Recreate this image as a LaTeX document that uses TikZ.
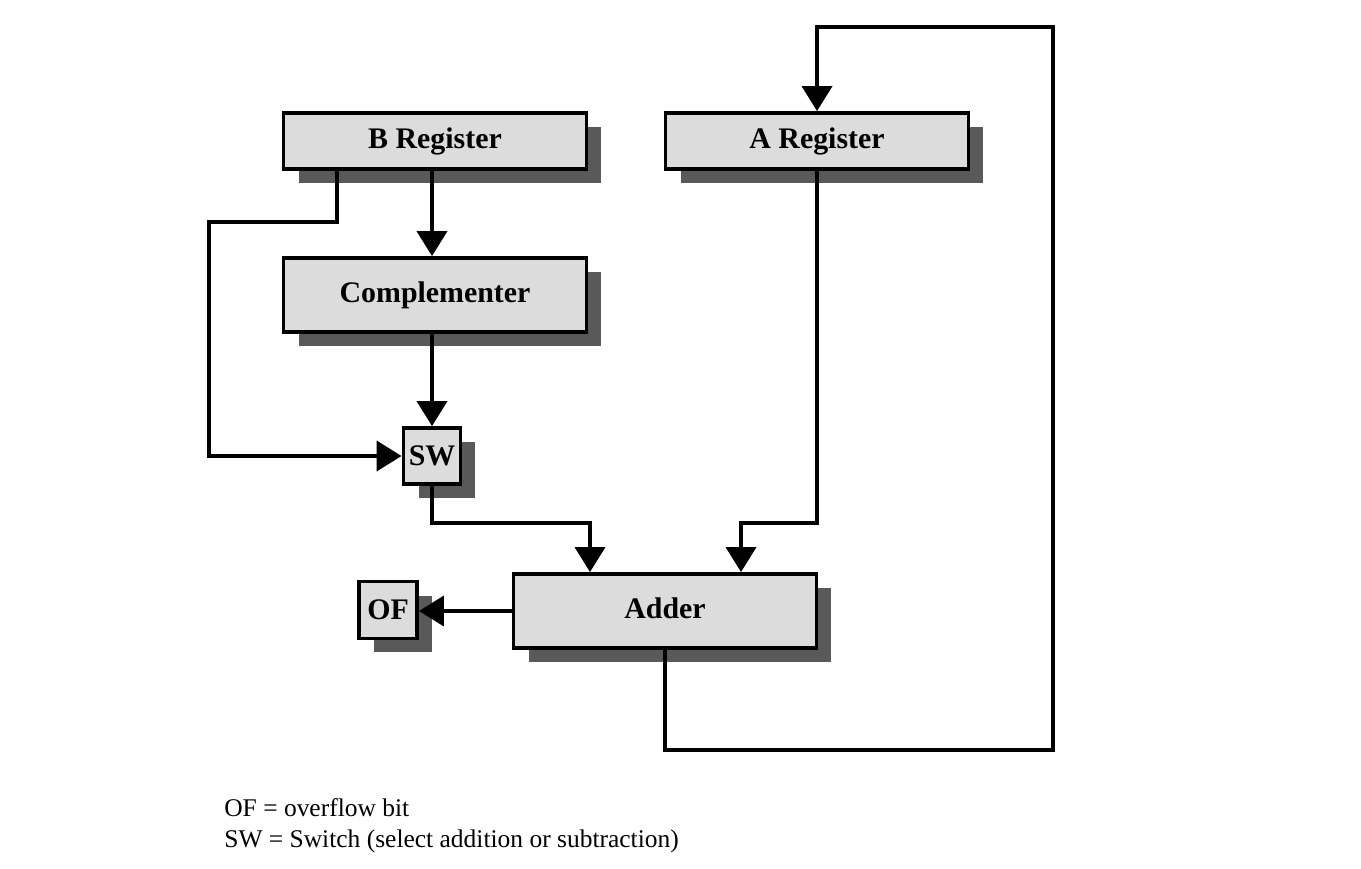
\documentclass[tikz,border=0pt]{standalone}
\usepackage{fontspec}
\setmainfont{Liberation Serif}
\usetikzlibrary{arrows.meta,shadows,calc}
\definecolor{boxgray}{HTML}{DCDCDC}
\definecolor{shgray}{HTML}{595959}
\tikzset{
  blk/.style={draw, line width=2.2pt, fill=boxgray, inner sep=0pt,
    font=\bfseries\fontsize{17}{20}\selectfont,
    drop shadow={shadow xshift=0.3cm, shadow yshift=-0.28cm, fill=shgray, opacity=1}},
  arr/.style={line width=2.2pt, -{Triangle[length=0.5cm,width=0.6cm]}},
  note/.style={font=\fontsize{14.5}{17}\selectfont, anchor=base west, inner sep=0pt}
}
\begin{document}
\begin{tikzpicture}[x=0.02cm, y=-0.02cm]
\useasboundingbox (0,0) rectangle (1361,868);
\node[blk, minimum width=6.06cm, minimum height=1.12cm] (breg) at (435,141) {B Register};
\node[blk, minimum width=6.06cm, minimum height=1.12cm] (areg) at (817,141) {A Register};
\node[blk, minimum width=6.06cm, minimum height=1.48cm] (comp) at (435,295) {Complementer};
\node[blk, minimum width=1.14cm, minimum height=1.12cm] (sw) at (432,456) {SW};
\node[blk, minimum width=6.06cm, minimum height=1.48cm] (adder) at (665,611) {\raisebox{0.13cm}{Adder}};
\node[blk, minimum width=1.16cm, minimum height=1.14cm] (of) at (388,610) {OF};

\coordinate (bo) at ($(breg.south west)+(55,0)$);
\coordinate (b2) at (209,222);
\coordinate (sa) at (590,523);
\coordinate (aa) at (741,523);
\coordinate (f2) at (1053,750);
\coordinate (f3) at (1053,27);

\draw[arr] (breg.south -| sw.north) -- (comp.north -| sw.north);
\draw[arr] (bo) |- (b2) |- (sw.west);
\draw[arr] (comp.south -| sw.north) -- (sw.north);
\draw[arr] (sw.south) |- (sa) -- (sa |- adder.north);
\draw[arr] (areg.south) |- (aa) -- (aa |- adder.north);
\draw[arr] (adder.west) -- (adder.west -| of.east);
\draw[arr] (adder.south) |- (f2) -- (f3) -| (areg.north);

\node[note] (n1) at (224,816) {OF = overflow bit};
\node[note] (n2) at (224,847) {SW = Switch (select addition or subtraction)};
\end{tikzpicture}
\end{document}
